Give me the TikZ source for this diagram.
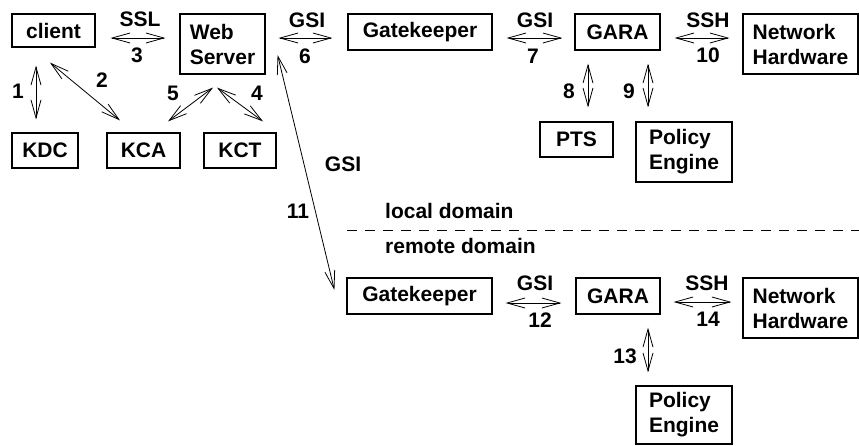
\documentclass[tikz,border=0pt]{standalone}
\usepackage{fontspec}
\setmainfont{Liberation Sans}
\usetikzlibrary{arrows.meta}
\begin{document}
\begin{tikzpicture}[x=1pt,y=-1pt,
  every node/.style={font=\fontsize{21}{25}\selectfont\bfseries},
  box/.style={draw,line width=1.2pt,inner sep=0pt,align=left},
  lbl/.style={anchor=base,inner sep=0pt},
  lbll/.style={anchor=base west,inner sep=0pt},
  biarrow/.style={{Straight Barb[length=18pt,width=10pt]}-{Straight Barb[length=18pt,width=10pt]},line width=0.8pt}]
\useasboundingbox (0,0) rectangle (859,445);
% boxes
\node[box,minimum width=83pt,minimum height=33pt] (client) at (53.5,30.5) {client};
\node[box,minimum width=85pt,minimum height=60pt] (web) at (222.5,44) {Web\\Server};
\node[box,minimum width=66pt,minimum height=35pt] (kdc) at (45,150.5) {KDC};
\node[box,minimum width=73pt,minimum height=35pt] (kca) at (143.5,150.5) {KCA};
\node[box,minimum width=72pt,minimum height=35pt] (kct) at (240,150.5) {KCT};
\node[box,minimum width=144pt,minimum height=36pt] (gk1) at (420,32) {Gatekeeper};
\node[box,minimum width=85pt,minimum height=36pt] (gara1) at (617.5,32) {GARA};
\node[box,minimum width=115pt,minimum height=60pt] (nh1) at (800.5,44) {Network\\Hardware};
\node[box,minimum width=73pt,minimum height=35pt] (pts) at (576.5,139.5) {PTS};
\node[box,minimum width=96pt,minimum height=60pt] (pe1) at (684,152) {Policy\\Engine};
\node[box,minimum width=145pt,minimum height=36pt] (gk2) at (419.5,296) {Gatekeeper};
\node[box,minimum width=84pt,minimum height=36pt] (gara2) at (618,296) {GARA};
\node[box,minimum width=115pt,minimum height=60pt] (nh2) at (800.5,308) {Network\\Hardware};
\node[box,minimum width=96pt,minimum height=58pt] (pe2) at (684,415) {Policy\\Engine};
% arrows
\draw[biarrow] ([shift={(-17.5,18)}]client.south) -- ([shift={(-9,-13)}]kdc.north);
\draw[biarrow] ([shift={(-3.5,15)}]client.south) -- ([shift={(-23.5,-12)}]kca.north);
\draw[biarrow] ([shift={(15,7.5)}]client.east) -- ([shift={(-14,-6)}]web.west);
\draw[biarrow] ([shift={(-9.5,13)}]web.south) -- ([shift={(24.5,-11)}]kca.north);
\draw[biarrow] ([shift={(-5.5,13)}]web.south) -- ([shift={(23,-11)}]kct.north);
\draw[biarrow] ([shift={(13,-6)}]web.east) -- ([shift={(-15,6)}]gk1.west);
\draw[biarrow] ([shift={(14,6)}]gk1.east) -- ([shift={(-12,6)}]gara1.west);
\draw[biarrow] ([shift={(-29.5,13)}]gara1.south) -- ([shift={(11.5,-14)}]pts.north);
\draw[biarrow] ([shift={(30.5,13)}]gara1.south) -- ([shift={(-36,-14)}]pe1.north);
\draw[biarrow] ([shift={(14,6)}]gara1.east) -- ([shift={(-13,-6)}]nh1.west);
\draw[biarrow] ([shift={(12,11)}]web.east) -- ([shift={(-12,-6)}]gk2.west);
\draw[biarrow] ([shift={(13,7)}]gk2.east) -- ([shift={(-14,7)}]gara2.west);
\draw[biarrow] ([shift={(13,6)}]gara2.east) -- ([shift={(-11,-6)}]nh2.west);
\draw[biarrow] ([shift={(30,13)}]gara2.south) -- ([shift={(-36,-13)}]pe2.north);
% labels
\node[lbl] (lssl) at (140,26) {SSL};
\node[lbl] (l3) at (137,62) {3};
\node[lbl] (l1) at (18,98) {1};
\node[lbl] (l2) at (102,87) {2};
\node[lbl] (l5) at (173,100) {5};
\node[lbl] (l4) at (257,100) {4};
\node[lbl] (lgsi6) at (307,27) {GSI};
\node[lbl] (l6) at (305,63) {6};
\node[lbl] (lgsi7) at (535,27) {GSI};
\node[lbl] (l7) at (533,63) {7};
\node[lbl] (l8) at (569,98) {8};
\node[lbl] (l9) at (629,98) {9};
\node[lbl] (lssh10) at (708,27) {SSH};
\node[lbl] (l10) at (708,62) {10};
\node[lbl] (lgsi11) at (343,171) {GSI};
\node[lbl] (l11) at (298,218) {11};
\node[lbll] (llocal) at (385,218) {local domain};
\node[lbll] (lremote) at (385,253) {remote domain};
\node[lbl] (lgsi12) at (535,290) {GSI};
\node[lbl] (l12) at (540,327) {12};
\node[lbl] (lssh14) at (707,290.5) {SSH};
\node[lbl] (l14) at (708,326) {14};
\node[lbl] (l13) at (625,363) {13};
% domain separator
\coordinate (dl) at (347,230);
\coordinate (dr) at (859,230);
\draw[line width=0.9pt,dash pattern=on 10pt off 8pt] (dl) -- (dr);
\end{tikzpicture}
\end{document}
